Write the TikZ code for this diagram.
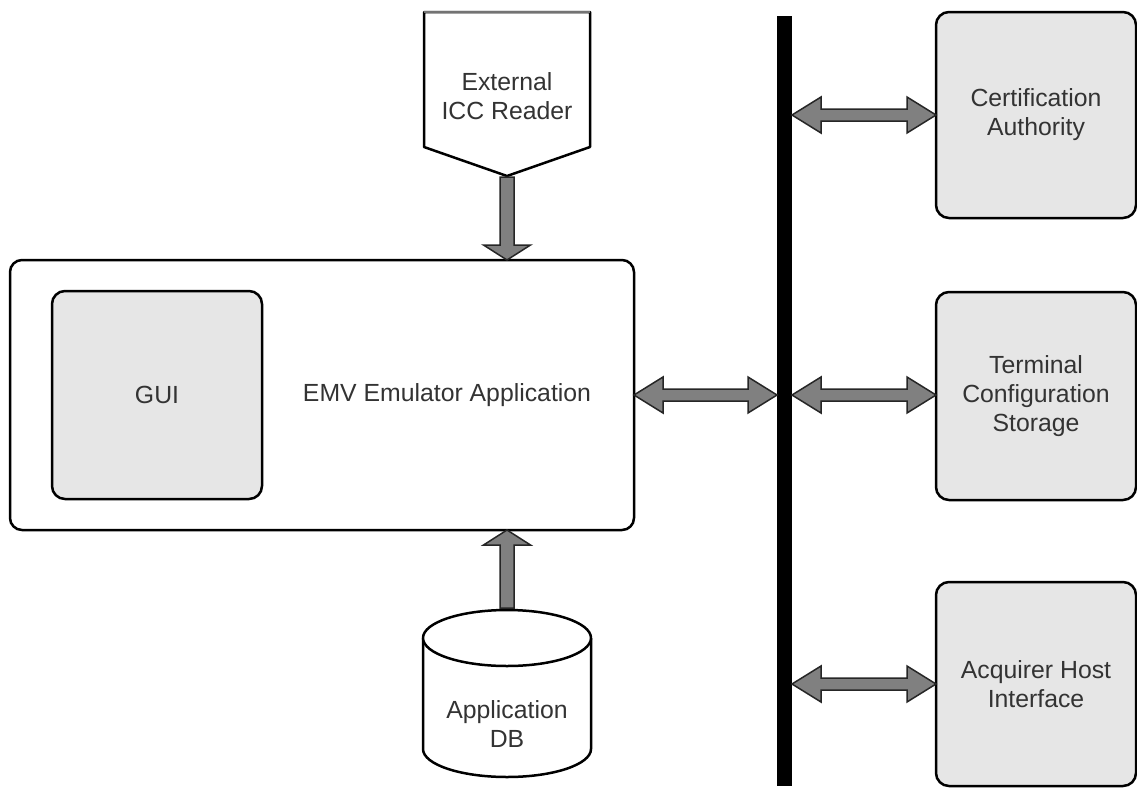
\documentclass[tikz,border=0pt]{standalone}
\usepackage{fontspec}
\setmainfont{Liberation Sans}
\usetikzlibrary{calc}
\definecolor{boxfill}{HTML}{E6E6E6}
\definecolor{txt}{HTML}{333333}
\definecolor{arrfill}{HTML}{808080}
\tikzset{
  lbl/.style={text=txt, font=\fontsize{24.8}{29}\selectfont, align=center},
  box/.style={draw=black, line width=2.5pt, rounded corners=13pt, fill=boxfill,
              inner sep=0pt, outer sep=0pt, lbl},
  frame/.style={draw=black, line width=2.5pt, rounded corners=12pt, fill=white,
                inner sep=0pt, outer sep=0pt},
  blk/.style={draw=black!85, line width=1.5pt, fill=arrfill, line join=miter},
  shapeline/.style={draw=black, line width=2.5pt, line join=round},
}
% horizontal double block arrow between two points at the same height
\newcommand{\hdarrow}[2]{%
  \draw[blk] let \p1=(#1), \p2=(#2) in
    (\x1,\y1) -- (\x1+29pt,\y1+18pt) -- (\x1+29pt,\y1+6pt)
    -- (\x2-29pt,\y1+6pt) -- (\x2-29pt,\y1+18pt) -- (\x2,\y1)
    -- (\x2-29pt,\y1-18pt) -- (\x2-29pt,\y1-6pt)
    -- (\x1+29pt,\y1-6pt) -- (\x1+29pt,\y1-18pt) -- cycle;}
% vertical single block arrow from #1 to #2 (head at #2); #3 = head length offset
\newcommand{\vbarrow}[3]{%
  \draw[blk] let \p1=(#1), \p2=(#2), \n1={\y2+#3} in
    (\x1-7pt,\y1) -- (\x1+7pt,\y1) -- (\x1+7pt,\n1)
    -- (\x1+23.5pt,\n1) -- (\x1,\y2) -- (\x1-23.5pt,\n1)
    -- (\x1-7pt,\n1) -- cycle;}

\begin{document}
\begin{tikzpicture}[x=1pt,y=-1pt]
\useasboundingbox (0,0) rectangle (1137,787);

% main application frame with the GUI inside
\node[frame, minimum width=624, minimum height=270] (emv) at (322,395) {};
\node[box, minimum width=210, minimum height=208] (gui) at (157,395) {GUI};
\node[lbl] (emvlabel) at (447,395) {EMV Emulator Application};

% external card reader (pentagon pointing down)
\draw[shapeline, fill=white] (424,147) -- (424,12) -- (590,12) -- (590,147) -- (507,176) -- cycle;
\draw[line width=2.5pt, draw=black!55] (424,12) -- (590,12);
\node[lbl] (reader) at (507,96) {External\\ICC Reader};
\coordinate (readertip) at (507,177);

% application database cylinder
\draw[shapeline, fill=white] (423,638) -- (423,749)
  arc[start angle=180, end angle=0, x radius=84, y radius=28] -- (591,638);
\draw[shapeline, fill=white] (507,638) ellipse[x radius=84, y radius=28];
\node[lbl] (db) at (507,724) {Application\\DB};
\coordinate (dbtop) at (507,608);

% communication bus
\node[fill=black, inner sep=0pt, outer sep=0pt, minimum width=15, minimum height=770] (bus) at (784.5,401) {};

% external services
\node[box, minimum width=200, minimum height=206] (cert) at (1036,115) {Certification\\Authority};
\node[box, minimum width=200, minimum height=208] (term) at (1036,396) {Terminal\\Configuration\\Storage};
\node[box, minimum width=200, minimum height=204] (acq) at (1036,684) {Acquirer Host\\Interface};

% connectors
\vbarrow{readertip}{readertip |- emv.north}{15pt}
\vbarrow{dbtop}{dbtop |- emv.south}{-15pt}
\hdarrow{emv.east}{bus.west |- emv.east}
\hdarrow{bus.east |- emv.east}{term.west |- emv.east}
\hdarrow{bus.east |- cert.west}{cert.west}
\hdarrow{bus.east |- acq.west}{acq.west}
\end{tikzpicture}
\end{document}
